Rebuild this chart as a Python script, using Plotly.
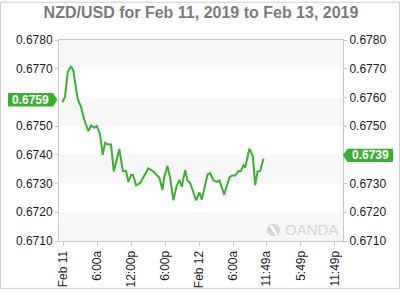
import plotly.graph_objects as go

# ---------------- data ----------------
title_text = "NZD/USD for Feb 11, 2019 to Feb 13, 2019"

# hours since Feb 11, 2019 00:00
hours = [-0.18, 0.30, 0.78, 1.36, 1.76, 2.54, 3.12, 3.70, 4.41, 4.89, 5.47, 5.89,
         6.47, 6.95, 7.35, 7.83, 8.41, 8.89, 9.88, 10.48, 11.06, 11.46, 11.94,
         12.29, 12.82, 13.53, 14.99, 15.87, 16.93, 17.46, 17.76, 18.34, 18.82,
         19.40, 20.00, 20.46, 20.88, 21.46, 21.87, 22.35, 23.40, 23.99, 24.41,
         25.40, 25.87, 26.46, 27.05, 27.51, 28.34, 29.28, 29.70, 30.28, 30.86,
         31.29, 31.75, 32.05, 32.80, 33.40, 33.81, 34.22, 34.69, 35.27]
rates = [0.67583, 0.67602, 0.67689, 0.67709, 0.67694, 0.67594, 0.67567, 0.67522,
         0.67483, 0.67502, 0.67494, 0.67500, 0.67472, 0.67400, 0.67442, 0.67436,
         0.67436, 0.67342, 0.67420, 0.67344, 0.67344, 0.67306, 0.67330, 0.67330,
         0.67294, 0.67302, 0.67353, 0.67342, 0.67320, 0.67278, 0.67320, 0.67361,
         0.67320, 0.67242, 0.67294, 0.67313, 0.67289, 0.67347, 0.67311, 0.67302,
         0.67242, 0.67269, 0.67244, 0.67331, 0.67336, 0.67311, 0.67306, 0.67311,
         0.67261, 0.67322, 0.67328, 0.67328, 0.67344, 0.67344, 0.67364, 0.67356,
         0.67422, 0.67394, 0.67294, 0.67342, 0.67344, 0.67387]

tick_hours = [0, 6, 12, 18, 24, 30, 35.817, 41.817, 47.817]
tick_labels = ["Feb 11", "6:00a", "12:00p", "6:00p", "Feb 12", "6:00a",
               "11:49a", "5:49p", "11:49p"]
y_ticks = [0.6710, 0.6720, 0.6730, 0.6740, 0.6750, 0.6760, 0.6770, 0.6780]
open_label = "0.6759"
open_rate = 0.6759
last_label = "0.6739"
last_rate = 0.6739
watermark = "OANDA"

# ---------------- layout constants ----------------
Y_MIN, Y_MAX = 0.6710, 0.6780
X_MIN, X_MAX = -0.76, 49.28
W, H = 400, 300
ML, MR, MT, MB = 59, 57, 40, 50
PW, PH = W - ML - MR, H - MT - MB
GREEN = "#3cae33"
AXC = "#c8c8c8"
FONT = "Arial, Liberation Sans, sans-serif"


def px2x(px):
    return (px - ML) / PW


def py2y(py):
    return (H - MB - py) / PH


def val2py(v):
    return H - MB - (v - Y_MIN) / (Y_MAX - Y_MIN) * PH


fig = go.Figure()
fig.add_trace(go.Scatter(x=hours, y=rates, mode="lines",
                         line=dict(color=GREEN, width=2),
                         hoverinfo="skip", showlegend=False))
fig.add_trace(go.Scatter(x=[X_MIN], y=[Y_MIN], mode="lines", yaxis="y2",
                         line=dict(width=0), hoverinfo="skip", showlegend=False))

shapes = []
# alternating bands
for lo in [0.6710, 0.6730, 0.6750, 0.6770]:
    shapes.append(dict(type="rect", xref="x", yref="y", x0=X_MIN, x1=X_MAX,
                       y0=lo, y1=lo + 0.0010, fillcolor="#f7f7f7",
                       line=dict(width=0), layer="below"))
# outer border
shapes.append(dict(type="rect", xref="paper", yref="paper",
                   x0=px2x(0.5), x1=px2x(399.5), y0=py2y(299.5), y1=py2y(0.5),
                   line=dict(color="#cccccc", width=1)))

# left price tag
lv = val2py(open_rate) - 0.5
p = [(8, lv - 7), (53, lv - 7), (57.5, lv), (53, lv + 7), (8, lv + 7)]
path = "M " + " L ".join(f"{px2x(a):.5f},{py2y(b):.5f}" for a, b in p) + " Z"
shapes.append(dict(type="path", xref="paper", yref="paper", path=path,
                   fillcolor=GREEN, line=dict(width=0)))
# right price tag
rv = val2py(last_rate) - 2.5
p = [(343, rv), (347.5, rv - 7), (393, rv - 7), (393, rv + 7), (347.5, rv + 7)]
path = "M " + " L ".join(f"{px2x(a):.5f},{py2y(b):.5f}" for a, b in p) + " Z"
shapes.append(dict(type="path", xref="paper", yref="paper", path=path,
                   fillcolor=GREEN, line=dict(width=0)))

# watermark icon
cx, cy, r = 273.5, 238.5, 6.5
shapes.append(dict(type="circle", xref="paper", yref="paper",
                   x0=px2x(cx - r), x1=px2x(cx + r), y0=py2y(cy + r), y1=py2y(cy - r),
                   fillcolor="#d6d6d6", line=dict(width=0)))
shapes.append(dict(type="line", xref="paper", yref="paper",
                   x0=px2x(cx - 3), y0=py2y(cy - 5), x1=px2x(cx + 3), y1=py2y(cy + 5),
                   line=dict(color="white", width=2.5)))

annotations = [
    dict(text=f"<b>{open_label}</b>", xref="paper", yref="paper",
         x=px2x(30.5), y=py2y(lv), xanchor="center", yanchor="middle",
         showarrow=False, font=dict(family=FONT, size=12, color="white")),
    dict(text=f"<b>{last_label}</b>", xref="paper", yref="paper",
         x=px2x(370), y=py2y(rv), xanchor="center", yanchor="middle",
         showarrow=False, font=dict(family=FONT, size=12, color="white")),
    dict(text=watermark, xref="paper", yref="paper",
         x=px2x(311), y=py2y(238.5), xanchor="center", yanchor="middle",
         showarrow=False, font=dict(family=FONT, size=15, color="#d6d6d6")),
]

left_ticks = [v for v in y_ticks if abs(v - 0.6760) > 1e-6]
right_ticks = [v for v in y_ticks if abs(v - 0.6740) > 1e-6]

fig.update_layout(
    width=W, height=H,
    margin=dict(l=ML, r=MR, t=MT, b=MB, pad=0),
    paper_bgcolor="white", plot_bgcolor="white",
    title=dict(text=f"<b>{title_text}</b>", x=0.5, xanchor="center",
               xref="paper", y=1 - 12.5 / H, yanchor="middle", yref="container",
               font=dict(family=FONT, size=16, color="#7a7a7a")),
    xaxis=dict(range=[X_MIN, X_MAX], tickvals=tick_hours, ticktext=tick_labels,
               tickangle=-90, ticks="outside", ticklen=4, tickcolor=AXC,
               showline=True, linecolor=AXC, mirror=True, showgrid=False,
               zeroline=False, tickfont=dict(family=FONT, size=12, color="#1a1a1a")),
    yaxis=dict(range=[Y_MIN, Y_MAX], tickvals=left_ticks, tickformat=".4f",
               ticks="outside", ticklen=3, tickcolor=AXC, showline=True,
               linecolor=AXC, mirror=True, showgrid=False, zeroline=False,
               tickfont=dict(family=FONT, size=12, color="#1a1a1a")),
    yaxis2=dict(range=[Y_MIN, Y_MAX], tickvals=right_ticks, tickformat=".4f",
                overlaying="y", side="right", ticks="outside", ticklen=3,
                tickcolor=AXC, showline=False, showgrid=False, zeroline=False,
                tickfont=dict(family=FONT, size=12, color="#1a1a1a")),
    shapes=shapes, annotations=annotations, showlegend=False,
)

fig.write_html("out.html")
